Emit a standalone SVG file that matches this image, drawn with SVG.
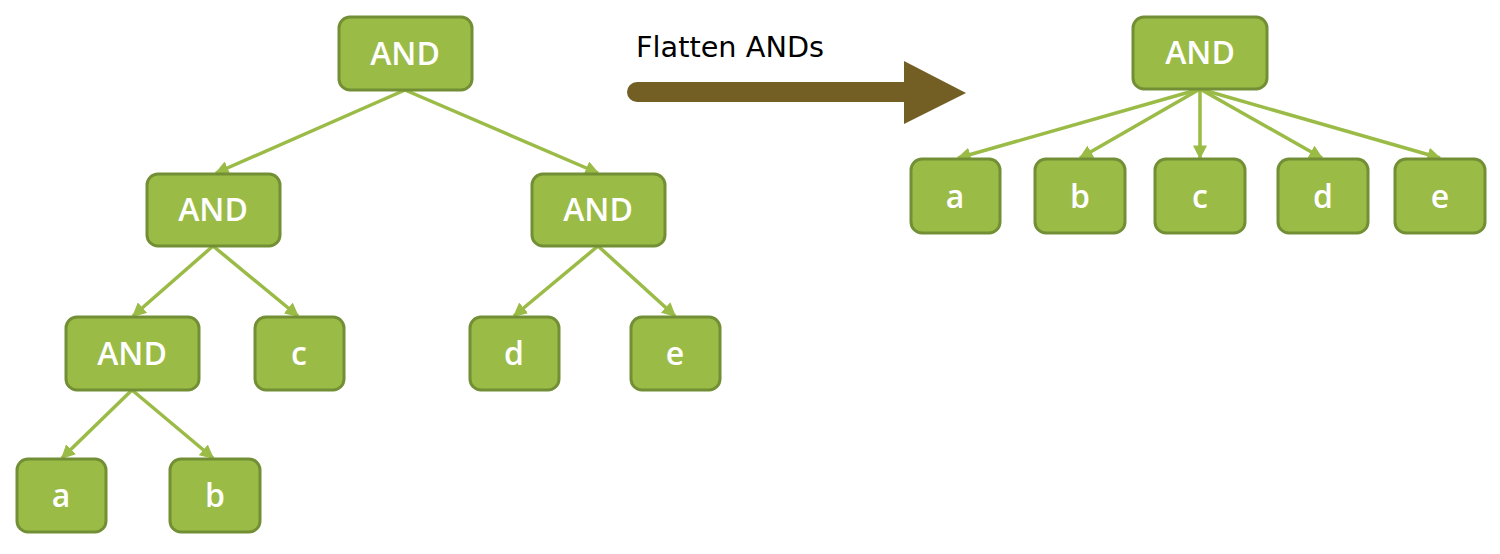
<svg xmlns="http://www.w3.org/2000/svg" width="1500" height="554" viewBox="0 0 1500 554">
<style>
.box{fill:#9bbb47;stroke:#738f35;stroke-width:3}
.lbl{font-family:"Open Sans","DejaVu Sans",sans-serif;font-weight:600;font-size:32px;fill:#ffffff;text-anchor:middle}
.edge{stroke:#9bbb47;stroke-width:3.5;fill:none;marker-end:url(#ah)}
</style>
<defs>
<marker id="ah" viewBox="0 0 10 10" refX="9" refY="5" markerWidth="4" markerHeight="4" orient="auto" markerUnits="strokeWidth">
<path d="M0,0 L10,5 L0,10 z" fill="#9bbb47"/>
</marker>
</defs>
<g id="connectors">
<line class="edge" x1="405" y1="90" x2="216" y2="173"/>
<line class="edge" x1="405" y1="90" x2="598" y2="173"/>
<line class="edge" x1="213" y1="246" x2="133" y2="316"/>
<line class="edge" x1="213" y1="246" x2="298" y2="316"/>
<line class="edge" x1="598" y1="246" x2="514" y2="316"/>
<line class="edge" x1="598" y1="246" x2="675" y2="316"/>
<line class="edge" x1="132" y1="390" x2="62" y2="458"/>
<line class="edge" x1="132" y1="390" x2="213" y2="458"/>
<line class="edge" x1="1200" y1="89" x2="958" y2="158"/>
<line class="edge" x1="1200" y1="89" x2="1080" y2="158"/>
<line class="edge" x1="1200" y1="89" x2="1200" y2="158"/>
<line class="edge" x1="1200" y1="89" x2="1322" y2="158"/>
<line class="edge" x1="1200" y1="89" x2="1440" y2="158"/>
</g>
<g id="flatten-arrow">
<line x1="637" y1="92" x2="910" y2="92" stroke="#735e24" stroke-width="20" stroke-linecap="round"/>
<polygon points="904,61 966,93 904,124" fill="#735e24"/>
<text x="636" y="57" font-family="DejaVu Sans, sans-serif" font-size="28" textLength="188" lengthAdjust="spacingAndGlyphs" fill="#000">Flatten ANDs</text>
</g>
<g id="n-root"><rect class="box" x="339" y="17" width="133" height="73" rx="11"/><text class="lbl" x="405" y="65">AND</text></g>
<g id="n-and-l"><rect class="box" x="147" y="174" width="133" height="72" rx="11"/><text class="lbl" x="213" y="221">AND</text></g>
<g id="n-and-r"><rect class="box" x="532" y="174" width="133" height="72" rx="11"/><text class="lbl" x="598" y="221">AND</text></g>
<g id="n-and-ll"><rect class="box" x="66" y="317" width="133" height="73" rx="11"/><text class="lbl" x="132" y="365">AND</text></g>
<g id="n-c"><rect class="box" x="255" y="317" width="89" height="73" rx="11"/><text class="lbl" x="299" y="365">c</text></g>
<g id="n-d"><rect class="box" x="470" y="317" width="89" height="73" rx="11"/><text class="lbl" x="514" y="365">d</text></g>
<g id="n-e"><rect class="box" x="631" y="317" width="89" height="73" rx="11"/><text class="lbl" x="675" y="365">e</text></g>
<g id="n-a"><rect class="box" x="17" y="459" width="89" height="73" rx="11"/><text class="lbl" x="61" y="507">a</text></g>
<g id="n-b"><rect class="box" x="170" y="459" width="90" height="73" rx="11"/><text class="lbl" x="215" y="507">b</text></g>
<g id="r-root"><rect class="box" x="1133" y="17" width="134" height="72" rx="11"/><text class="lbl" x="1200" y="64">AND</text></g>
<g id="r-a"><rect class="box" x="911" y="159" width="89" height="74" rx="11"/><text class="lbl" x="955" y="208">a</text></g>
<g id="r-b"><rect class="box" x="1035" y="159" width="90" height="74" rx="11"/><text class="lbl" x="1080" y="208">b</text></g>
<g id="r-c"><rect class="box" x="1155" y="159" width="90" height="74" rx="11"/><text class="lbl" x="1200" y="208">c</text></g>
<g id="r-d"><rect class="box" x="1278" y="159" width="90" height="74" rx="11"/><text class="lbl" x="1323" y="208">d</text></g>
<g id="r-e"><rect class="box" x="1395" y="159" width="90" height="74" rx="11"/><text class="lbl" x="1440" y="208">e</text></g>
</svg>
